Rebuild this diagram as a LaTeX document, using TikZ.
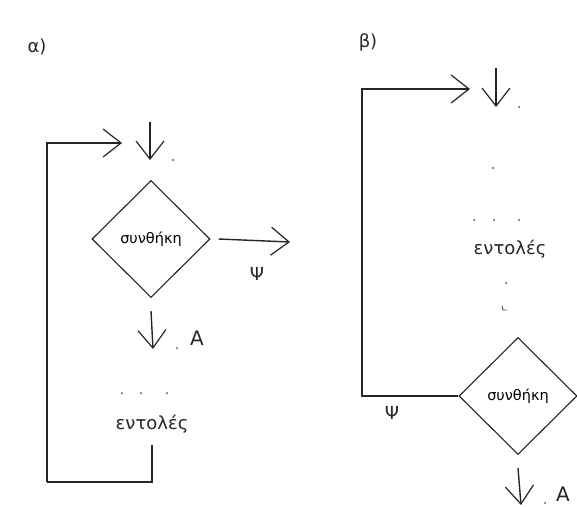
\documentclass[tikz,border=0pt]{standalone}
\usepackage{fontspec}
\setmainfont{DejaVu Sans}
\usetikzlibrary{shapes.geometric,arrows.meta}
\begin{document}
\begin{tikzpicture}[x=1pt,y=-1pt,
  line/.style={draw=black!85, line width=1.4pt},
  barb/.style={-{Straight Barb[length=18pt,width=28pt,line width=1.2pt]}},
  cond/.style={diamond, draw=black!85, line width=1.1pt, minimum width=118pt, minimum height=117pt, inner sep=0pt, font=\fontsize{14.5}{16}\selectfont},
  lbl/.style={font=\fontsize{18}{21}\selectfont, text=black!85, inner sep=0pt},
  pt/.style={circle, fill=black!70, inner sep=0pt, minimum size=2pt}]
\useasboundingbox (0,0) rectangle (577,506);

% ---------- alpha ----------
\node[lbl] (alab) at (37,47) {α)};
\coordinate (atop) at (150,122);
\coordinate (atopend) at (150,160);
\draw[line,barb] (atop) -- (atopend);
\node[pt] (ad1) at (173,160) {};
\node[cond] (ac) at (151,239) {συνθήκη};
\coordinate (aout) at (290,242);
\draw[line,barb] ([xshift=8pt]ac.east) -- (aout);
\node[lbl] (apsi) at (257,274) {Ψ};
\coordinate (adown) at (153,349);
\draw[line,barb] ([yshift=-13pt]ac.south) -- (adown);
\node[pt] (ad2) at (177,348) {};
\node[lbl,font=\fontsize{20}{24}\selectfont] (aA) at (197,338) {A};
\node[pt] (ad3) at (122,393) {};
\node[pt] (ad4) at (141,393) {};
\node[pt] (ad5) at (167,393) {};
\node[lbl] (ae) at (152,424) {εντολές};
\coordinate (abot) at (47,482);
\coordinate (ain) at (122,143);
\draw[line] (ae.south) ++(0,12) |- (abot);
\draw[line,barb] (abot) |- (ain);

% ---------- beta ----------
\node[lbl] (blab) at (368,42) {β)};
\coordinate (btop) at (496,68);
\coordinate (btopend) at (496,107);
\draw[line,barb] (btop) -- (btopend);
\node[pt] (bd1) at (519,107) {};
\node[pt] (bd2) at (493,168) {};
\node[pt] (bd3) at (474,220) {};
\node[pt] (bd4) at (494,220) {};
\node[pt] (bd5) at (519,220) {};
\node[lbl] (be) at (510,249) {εντολές};
\node[pt] (bd6) at (506,283) {};
\draw[draw=black!70, line width=0.9pt] (502,306) -- (503,310) -- (507,310);
\node[cond] (bc) at (518,396) {συνθήκη};
\coordinate (bcorner) at (362,396);
\coordinate (bin) at (470,89);
\draw[line,barb] (bc.west) -- (bcorner) |- (bin);
\node[lbl] (bpsi) at (392,413) {Ψ};
\coordinate (bdown) at (521,505);
\draw[line,barb] ([yshift=-13pt]bc.south) -- (bdown);
\node[pt] (bd7) at (545,503) {};
\node[lbl,font=\fontsize{20}{24}\selectfont] (bA) at (563,494) {A};
\end{tikzpicture}
\end{document}
